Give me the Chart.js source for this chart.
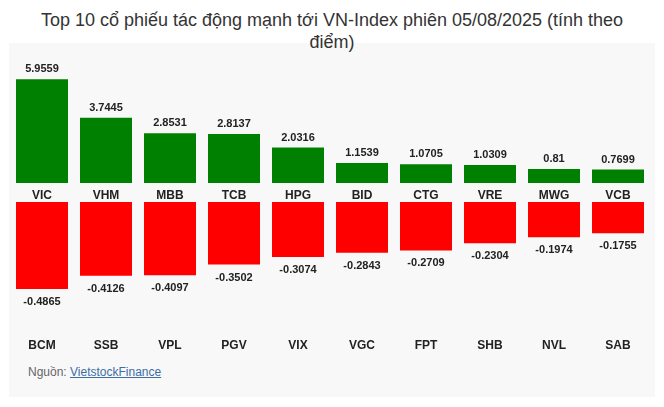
<!DOCTYPE html>
<html>
<head>
<meta charset="utf-8">
<script src="https://cdn.jsdelivr.net/npm/chart.js@4.4.1/dist/chart.umd.min.js"></script>
<style>
  body { margin: 0; background: #fff; font-family: 'Liberation Sans', Arial, sans-serif; }
  #wrap { position: relative; width: 664px; height: 407px; overflow: hidden; }
  #panel { position: absolute; left: 9px; top: 43px; width: 646px; height: 354px; background: #f8f8f8; }
  #title { position: absolute; left: 0; top: 9px; width: 664px; text-align: center; font-size: 18px; line-height: 22px; color: #333; }
  #topChart { position: absolute; left: 0; top: 50px; }
  #bottomChart { position: absolute; left: 0; top: 202px; }
  #source { position: absolute; left: 28px; top: 365px; font-size: 12px; color: #666; }
  #source a { color: #3b6ea5; text-decoration: underline; }
</style>
</head>
<body>
<div id="wrap">
  <div id="panel"></div>
  <div id="title">Top 10 cổ phiếu tác động mạnh tới VN-Index phiên 05/08/2025 (tính theo<br>điểm)</div>
  <canvas id="topChart" width="664" height="155"></canvas>
  <canvas id="bottomChart" width="664" height="153"></canvas>
  <div id="source">Nguồn: <a href="#">VietstockFinance</a></div>
</div>
<script>
// top 10 gainers (points added to VN-Index)
const upLabels = ['VIC', 'VHM', 'MBB', 'TCB', 'HPG', 'BID', 'CTG', 'VRE', 'MWG', 'VCB'];
const upValues = [5.9559, 3.7445, 2.8531, 2.8137, 2.0316, 1.1539, 1.0705, 1.0309, 0.81, 0.7699];

// top 10 losers (points taken from VN-Index)
const downLabels = ['BCM', 'SSB', 'VPL', 'PGV', 'VIX', 'VGC', 'FPT', 'SHB', 'NVL', 'SAB'];
const downValues = [-0.4865, -0.4126, -0.4097, -0.3502, -0.3074, -0.2843, -0.2709, -0.2304, -0.1974, -0.1755];

Chart.defaults.font.family = "'Liberation Sans', Arial, sans-serif";
Chart.defaults.color = '#222';

// draws the value above / below each bar
const valueLabels = {
  id: 'valueLabels',
  afterDatasetsDraw(chart) {
    const ctx = chart.ctx;
    const meta = chart.getDatasetMeta(0);
    const values = chart.data.datasets[0].data;
    ctx.save();
    ctx.font = 'bold 11px ' + Chart.defaults.font.family;
    ctx.fillStyle = '#222';
    ctx.textAlign = 'center';
    ctx.textBaseline = 'middle';
    meta.data.forEach(function(bar, i) {
      const v = values[i];
      const y = v >= 0 ? bar.y - 10 : bar.y + 13;
      ctx.fillText(String(v), bar.x, y);
    });
    ctx.restore();
  }
};

function makeOptions(yMin, yMax, padTop, axisHeight, tickPad) {
  return {
    responsive: false,
    animation: false,
    layout: { padding: { left: 10, right: 14, top: padTop, bottom: 0 } },
    plugins: { legend: { display: false }, tooltip: { enabled: false } },
    scales: {
      x: {
        grid: { display: false, drawTicks: false },
        border: { display: false },
        ticks: { font: { size: 12, weight: 'bold' }, color: '#222', padding: tickPad },
        afterFit: function(axis) { axis.height = axisHeight; }
      },
      y: { display: false, min: yMin, max: yMax }
    }
  };
}

window.onload = function() {
  new Chart(document.getElementById('topChart').getContext('2d'), {
    type: 'bar',
    data: {
      labels: upLabels,
      datasets: [{
        data: upValues,
        backgroundColor: '#008000',
        categoryPercentage: 1,
        barPercentage: 0.8125
      }]
    },
    options: makeOptions(0, 7, 11, 22, 5),
    plugins: [valueLabels]
  });

  new Chart(document.getElementById('bottomChart').getContext('2d'), {
    type: 'bar',
    data: {
      labels: downLabels,
      datasets: [{
        data: downValues,
        backgroundColor: '#ff0000',
        categoryPercentage: 1,
        barPercentage: 0.8125
      }]
    },
    options: makeOptions(-0.7, 0, 0, 28, 11),
    plugins: [valueLabels]
  });
};
</script>
</body>
</html>
